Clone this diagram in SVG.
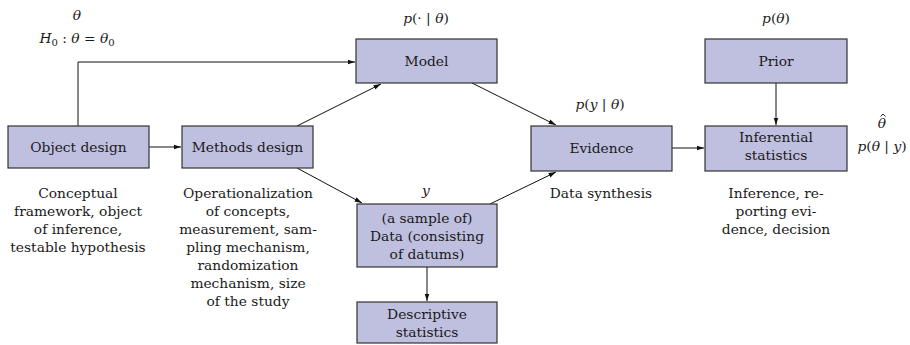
<svg xmlns="http://www.w3.org/2000/svg" width="910" height="345" viewBox="0 0 910 345">
<style>
.box{fill:#bfbfdf;stroke:#333;stroke-width:1.2}
text{font-family:'DejaVu Serif','Liberation Serif',serif;font-size:13.8px;fill:#1a1a1a;text-anchor:middle}
.m{font-style:italic}
.c{fill:none;stroke:#111;stroke-width:1}
</style>
<defs>
<marker id="ah" viewBox="0 0 8 6" refX="7.5" refY="3" markerWidth="8" markerHeight="6" markerUnits="userSpaceOnUse" orient="auto">
<path d="M0,0.6 L7.5,3 L0,5.4 Z" fill="#111"/>
</marker>
</defs>
<g id="connectors">
<path class="c" d="M78,126 V62 H355" marker-end="url(#ah)"/>
<path class="c" d="M149,147 H181" marker-end="url(#ah)"/>
<path class="c" d="M297,126 L381,84" marker-end="url(#ah)"/>
<path class="c" d="M297,168 L362,203" marker-end="url(#ah)"/>
<path class="c" d="M472,83 L556,125" marker-end="url(#ah)"/>
<path class="c" d="M490,204 L556,172" marker-end="url(#ah)"/>
<path class="c" d="M672,148 H704" marker-end="url(#ah)"/>
<path class="c" d="M776,83 V125" marker-end="url(#ah)"/>
<path class="c" d="M427,267 V301" marker-end="url(#ah)"/>
</g>
<g id="object-design">
<rect class="box" x="8" y="126" width="141" height="42"/>
<text x="78.5" y="152">Object design</text>
<text x="78" y="198">Conceptual</text>
<text x="78" y="216">framework, object</text>
<text x="78" y="234">of inference,</text>
<text x="78" y="252">testable hypothesis</text>
<text x="77" y="20" class="m">θ</text>
<text x="77" y="43"><tspan class="m">H</tspan><tspan font-size="10" dy="3">0</tspan><tspan dy="-3"> : </tspan><tspan class="m">θ</tspan> = <tspan class="m">θ</tspan><tspan font-size="10" dy="3">0</tspan></text>
</g>
<g id="methods-design">
<rect class="box" x="182" y="126" width="131" height="42"/>
<text x="247.5" y="152">Methods design</text>
<text x="248" y="198">Operationalization</text>
<text x="248" y="216">of concepts,</text>
<text x="248" y="234">measurement, sam-</text>
<text x="248" y="252">pling mechanism,</text>
<text x="248" y="270">randomization</text>
<text x="248" y="288">mechanism, size</text>
<text x="248" y="306">of the study</text>
</g>
<g id="model">
<rect class="box" x="356" y="39" width="141" height="44"/>
<text x="426.5" y="66">Model</text>
<text x="426" y="23"><tspan class="m">p</tspan>(· | <tspan class="m">θ</tspan>)</text>
</g>
<g id="data">
<rect class="box" x="357" y="204" width="140" height="63"/>
<text x="427" y="223">(a sample of)</text>
<text x="427" y="241">Data (consisting</text>
<text x="427" y="259">of datums)</text>
<text x="426" y="195" class="m">y</text>
</g>
<g id="descriptive-statistics">
<rect class="box" x="357" y="302" width="140" height="41"/>
<text x="427" y="319">Descriptive</text>
<text x="427" y="337">statistics</text>
</g>
<g id="evidence">
<rect class="box" x="531" y="126" width="141" height="45"/>
<text x="601.5" y="153">Evidence</text>
<text x="601" y="198">Data synthesis</text>
<text x="600" y="109"><tspan class="m">p</tspan>(<tspan class="m">y</tspan> | <tspan class="m">θ</tspan>)</text>
</g>
<g id="prior">
<rect class="box" x="705" y="39" width="142" height="44"/>
<text x="776" y="66">Prior</text>
<text x="776" y="23"><tspan class="m">p</tspan>(<tspan class="m">θ</tspan>)</text>
</g>
<g id="inferential-statistics">
<rect class="box" x="705" y="126" width="142" height="45"/>
<text x="776" y="142">Inferential</text>
<text x="776" y="160">statistics</text>
<text x="776" y="198">Inference, re-</text>
<text x="776" y="216">porting evi-</text>
<text x="776" y="234">dence, decision</text>
<text x="882" y="128" class="m">θ</text>
<path d="M880.5,116.5 L883,114 L885.5,116.5" fill="none" stroke="#111" stroke-width="0.9"/>
<text x="882" y="151"><tspan class="m">p</tspan>(<tspan class="m">θ</tspan> | <tspan class="m">y</tspan>)</text>
</g>
</svg>
